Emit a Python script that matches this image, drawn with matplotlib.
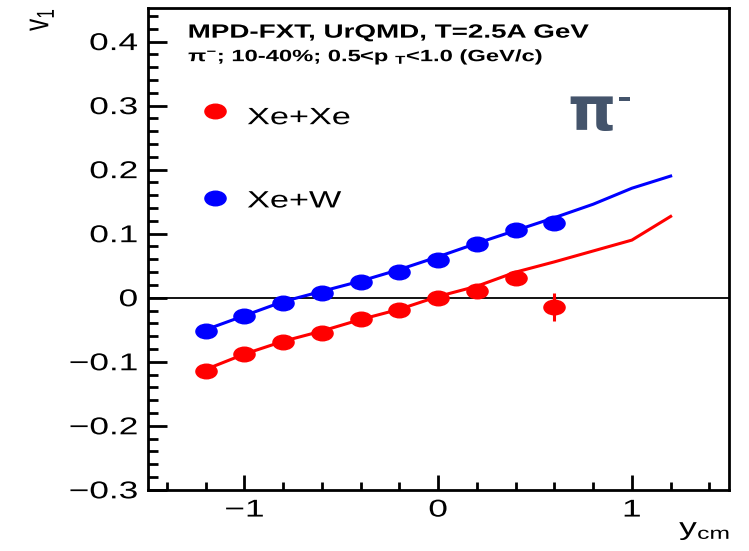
import numpy as np
import matplotlib
matplotlib.use('Agg')
import matplotlib.pyplot as plt
from matplotlib.ticker import MultipleLocator
from matplotlib.markers import MarkerStyle
from matplotlib.transforms import Affine2D
from matplotlib import patheffects

plt.rcParams['font.family'] = ['Liberation Sans', 'DejaVu Sans']
plt.rcParams['mathtext.fontset'] = 'custom'
plt.rcParams['mathtext.rm'] = 'Liberation Sans'
plt.rcParams['mathtext.bf'] = 'Liberation Sans:bold'
plt.rcParams['mathtext.default'] = 'regular'

# UrQMD points, pi-, 10-40%
y_pts = [-1.2, -1.0, -0.8, -0.6, -0.4, -0.2, 0.0, 0.2, 0.4, 0.6]
v1_xexe = [-0.115, -0.088, -0.069, -0.055, -0.034, -0.019, 0.0, 0.011, 0.031, -0.014]
err_xexe = [0.002, 0.002, 0.002, 0.002, 0.002, 0.002, 0.002, 0.003, 0.004, 0.022]
v1_xew = [-0.052, -0.029, -0.008, 0.008, 0.024, 0.040, 0.059, 0.084, 0.106, 0.117]
err_xew = [0.002, 0.002, 0.002, 0.002, 0.002, 0.002, 0.002, 0.002, 0.003, 0.004]

# model curves
y_line = [-1.2, -1.0, -0.8, -0.6, -0.4, -0.2, 0.0, 0.2, 0.4, 0.6, 0.8, 1.0, 1.2]
line_xexe = [-0.112, -0.088, -0.068, -0.052, -0.034, -0.018, 0.002, 0.018, 0.040, 0.056,
             0.073, 0.090, 0.127]
line_xew = [-0.050, -0.028, -0.006, 0.010, 0.026, 0.044, 0.064, 0.085, 0.105, 0.125,
            0.146, 0.171, 0.190]

SX = 1.45  # horizontal stretch of glyphs and markers


class StretchX(patheffects.AbstractPathEffect):
    """Widen text glyphs horizontally around the left/center/right edge."""

    def __init__(self, sx=SX, anchor='left'):
        super().__init__()
        self.sx = sx
        self.anchor = anchor

    def draw_path(self, renderer, gc, tpath, affine, rgbFace=None):
        ext = tpath.get_extents(affine)
        px = {'left': ext.x0, 'center': 0.5 * (ext.x0 + ext.x1), 'right': ext.x1}[self.anchor]
        tr = affine + Affine2D().translate(-px, 0).scale(self.sx, 1).translate(px, 0)
        renderer.draw_path(gc, tpath, tr, rgbFace)


dot = MarkerStyle('o', transform=Affine2D().scale(SX, 1))
ms = 10.5

fig = plt.figure(figsize=(7.49, 5.51), dpi=100)
ax = fig.add_axes([0.197, 0.111, 0.776, 0.874])

ax.axhline(0, color='black', lw=1.3, zorder=1)
ax.plot(y_line, line_xexe, color='red', lw=2.2, zorder=2)
ax.plot(y_line, line_xew, color='blue', lw=2.2, zorder=2)
ax.errorbar(y_pts, v1_xexe, yerr=err_xexe, fmt='none', ecolor='red', elinewidth=2.2,
            capsize=0, zorder=3)
ax.errorbar(y_pts, v1_xew, yerr=err_xew, fmt='none', ecolor='blue', elinewidth=2.2,
            capsize=0, zorder=3)
ax.plot(y_pts, v1_xexe, linestyle='none', marker=dot, ms=ms, color='red', zorder=4)
ax.plot(y_pts, v1_xew, linestyle='none', marker=dot, ms=ms, color='blue', zorder=4)

ax.set_xlim(-1.5, 1.5)
ax.set_ylim(-0.3, 0.452)
ax.xaxis.set_minor_locator(MultipleLocator(0.2))
ax.yaxis.set_minor_locator(MultipleLocator(0.02))
ax.set_xticks([-1, 0, 1])
xlabs = ax.set_xticklabels(['\u22121', '0', '1'])
ax.set_yticks([-0.3, -0.2, -0.1, 0, 0.1, 0.2, 0.3, 0.4])
ylabs = ax.set_yticklabels(['\u22120.3', '\u22120.2', '\u22120.1', '0', '0.1', '0.2', '0.3', '0.4'])
ax.tick_params(axis='both', which='both', direction='in', width=2, labelsize=17.5)
ax.tick_params(axis='y', which='major', length=14, pad=7)
ax.tick_params(axis='y', which='minor', length=7)
ax.tick_params(axis='x', which='major', length=11, pad=7)
ax.tick_params(axis='x', which='minor', length=5.5)
for lab in ylabs:
    lab.set_path_effects([StretchX(anchor='right')])
for lab in xlabs:
    lab.set_path_effects([StretchX(anchor='center')])
for s in ax.spines.values():
    s.set_linewidth(2)

ax.text(0.07, 0.939, 'MPD-FXT, UrQMD, T=2.5A GeV', transform=ax.transAxes,
        fontsize=13.8, fontweight='bold', va='baseline',
        path_effects=[StretchX()])
ax.text(0.07, 0.890, '\u03c0$^{-}$; 10-40%; 0.5<p $_{T}$<1.0 (GeV/c)',
        transform=ax.transAxes, fontsize=11.8, fontweight='bold', va='baseline',
        path_effects=[StretchX()])

# legend entries
ax.plot([-1.15], [0.292], linestyle='none', marker=dot, ms=ms, color='red')
ax.text(-0.985, 0.271, 'Xe+Xe', fontsize=17, va='baseline', path_effects=[StretchX()])
ax.plot([-1.15], [0.155], linestyle='none', marker=dot, ms=ms, color='blue')
ax.text(-0.985, 0.141, 'Xe+W', fontsize=17, va='baseline', path_effects=[StretchX()])

# big particle tag
ax.text(0.665, 0.262, '\u03c0', fontsize=44, fontweight='bold', color='#44546b',
        family='DejaVu Sans', va='baseline')
ax.text(0.925, 0.298, '-', fontsize=22, fontweight='bold', color='#44546b',
        va='baseline', path_effects=[StretchX()])

fig.text(0.055, 0.9855, 'v$_1$', rotation=90, fontsize=17.5, ha='center', va='top',
         path_effects=[StretchX(anchor='center')])
fig.text(0.975, 0.029, 'y$_{cm}$', fontsize=17.5, ha='right', va='baseline',
         path_effects=[StretchX(anchor='right')])

fig.savefig('out.png', dpi=100)
